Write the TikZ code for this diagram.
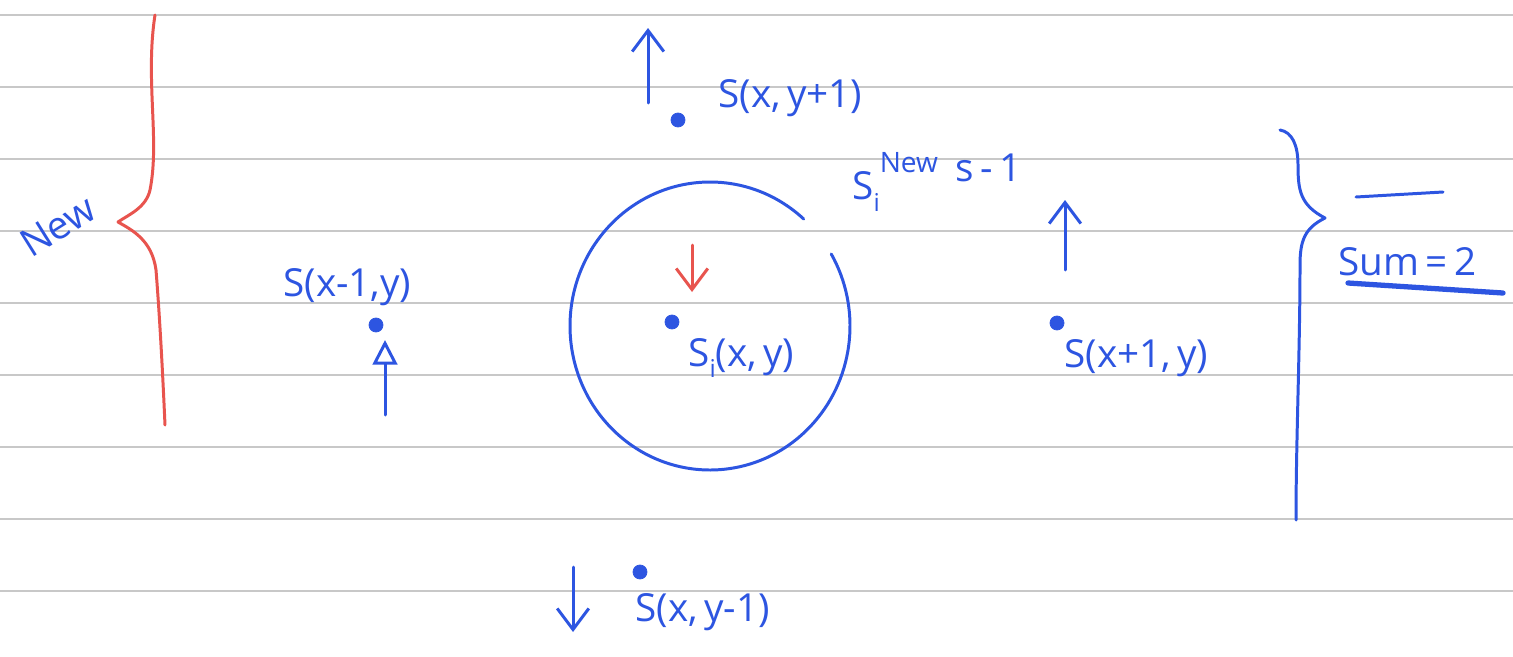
\documentclass[tikz,border=0pt]{standalone}
\usepackage{fontspec}
\setmainfont{Open Sans}
\usetikzlibrary{arrows.meta}
\definecolor{pen}{RGB}{45,85,225}
\definecolor{redpen}{RGB}{232,84,78}
\definecolor{rule}{RGB}{200,200,200}
\tikzset{
  ink/.style={pen, line width=1.7pt, line cap=round, line join=round},
  redink/.style={redpen, line width=1.7pt, line cap=round, line join=round},
  hand/.style={pen, font=\fontsize{22}{24}\selectfont, inner sep=0pt},
  dot/.style={circle, fill=pen, draw=pen, inner sep=0pt, minimum size=8pt},
  barb/.style={-{Straight Barb[length=12pt, width=18pt]}},
}
\begin{document}
\begin{tikzpicture}[x=0.02cm, y=0.02cm]
\useasboundingbox (0,0) rectangle (1513,-656);
\fill[white] (0,0) rectangle (1513,-656);
% ruled lines
\foreach \yy in {15,87,159,231,303,375,447,519,591}
  \draw[rule, line width=1.2pt] (0,-\yy) -- (1513,-\yy);

% red brace
\draw[redink] (155,-15) .. controls (145,-80) and (160,-140) .. (150,-190)
  .. controls (146,-208) and (128,-215) .. (118,-222)
  .. controls (132,-230) and (152,-240) .. (156,-270)
  .. controls (160,-320) and (163,-380) .. (165,-425);
\node[hand, rotate=32] (new) at (58,-226) {New};

% top neighbour
\node[dot] (top) at (678,-120) {};
\node[hand, anchor=west] (toplab) at (718,-98) {S(x,\,y+1)};
\coordinate (tua) at (648,-103);
\coordinate (tub) at (648,-28);
\draw[ink, barb] (tua) -- (tub);

% S_i new
\node[hand, anchor=west] (snew) at (852,-182) {S\raisebox{-0.55ex}{\fontsize{14}{16}\selectfont i}\raisebox{1.3ex}{\fontsize{16}{18}\selectfont New}};
\node[hand, anchor=west] (sm1) at (955,-168) {s\,-\,1};

% circle around centre
\draw[ink] (710,-326) ++(48:140 and 144) arc[start angle=48, end angle=390, x radius=140, y radius=144];

% centre
\coordinate (ra) at (692,-245);
\coordinate (rb) at (692,-292);
\draw[redink, barb] (ra) -- (rb);
\node[dot] (ctr) at (672,-322) {};
\node[hand, anchor=west] (ctrlab) at (688,-358) {S\raisebox{-0.5ex}{\fontsize{14}{16}\selectfont i}(x,\,y)};

% left neighbour
\node[hand, anchor=west] (leftlab) at (283,-287) {S(x-1,y)};
\node[dot] (left) at (376,-325) {};
\coordinate (la) at (385,-415);
\coordinate (lb) at (385,-340);
\draw[ink, -{Triangle[open, length=14pt, width=14pt]}] (la) -- (lb);

% right neighbour
\coordinate (rra) at (1065,-270);
\coordinate (rrb) at (1065,-200);
\draw[ink, barb] (rra) -- (rrb);
\node[dot] (right) at (1057,-323) {};
\node[hand, anchor=west] (rightlab) at (1064,-358) {S(x+1,\,y)};

% bottom neighbour
\node[dot] (bot) at (640,-572) {};
\node[hand, anchor=west] (botlab) at (635,-612) {S(x,\,y-1)};
\coordinate (ba) at (573,-567);
\coordinate (bb) at (573,-632);
\draw[ink, barb] (ba) -- (bb);

% blue brace
\draw[ink] (1280,-130) .. controls (1292,-132) and (1298,-145) .. (1298,-165)
  .. controls (1298,-190) and (1300,-205) .. (1325,-218)
  .. controls (1305,-228) and (1300,-240) .. (1300,-265)
  .. controls (1300,-350) and (1296,-440) .. (1296,-520);

% sum
\coordinate (da) at (1356,-197);
\coordinate (db) at (1443,-192);
\draw[ink] (da) -- (db);
\node[hand, anchor=west] (sum) at (1338,-262) {Sum\,=\,2};
\coordinate (ua) at (1348,-283);
\coordinate (ub) at (1503,-293);
\draw[pen, line width=3pt, line cap=round] (ua) -- (ub);
\end{tikzpicture}
\end{document}
